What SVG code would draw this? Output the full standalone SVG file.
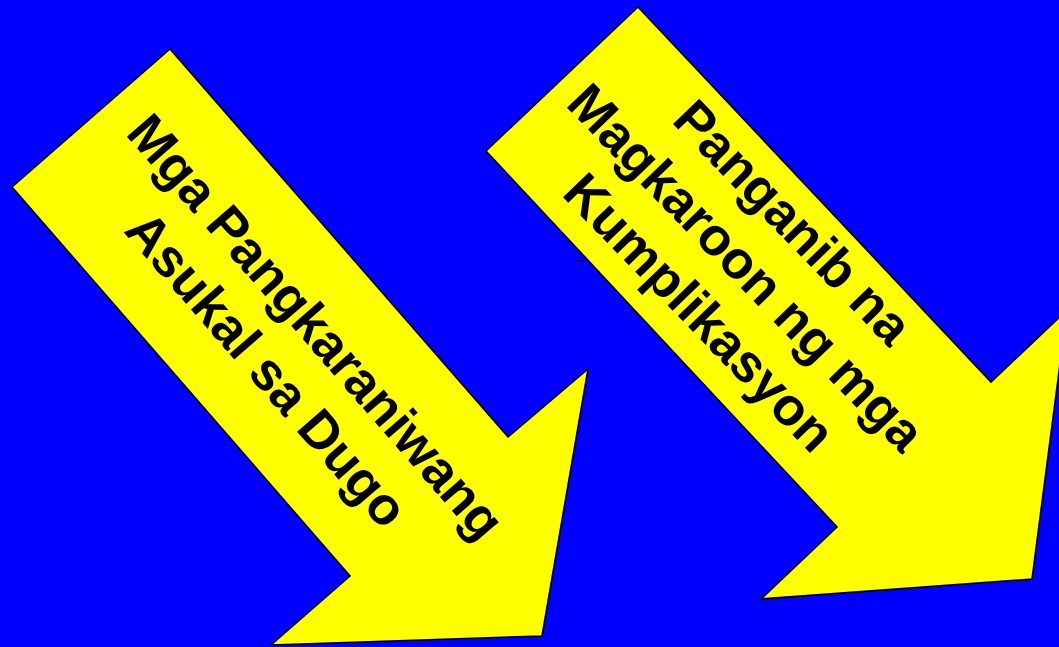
<svg xmlns="http://www.w3.org/2000/svg" width="1059" height="647" viewBox="0 0 1059 647">
<style>
.arrow{fill:#FFFF00;stroke:#000000;stroke-width:1.6;stroke-linejoin:miter}
.lbl{font-family:"Liberation Sans",Arial,sans-serif;font-weight:bold;font-size:53px;fill:#000000;text-anchor:middle}
</style>
<rect x="0" y="0" width="1059" height="647" fill="#0000FF"/>
<g id="arrow-left">
<polygon class="arrow" points="170,49 508,437 588,369 542,636 271,645 350,576 12,187"/>
<g transform="translate(302.2,338.6) rotate(49)">
<text class="lbl" x="0" y="0">Mga Pangkaraniwang</text>
<text class="lbl" x="0" y="65">Asukal sa Dugo</text>
</g>
</g>
<g id="arrow-right">
<polygon class="arrow" points="638,7 991,382 1067,310 1032,579 761,599 837,527 486,151"/>
<g transform="translate(733.2,279.9) rotate(46)">
<text class="lbl" x="0" y="-65">Panganib na</text>
<text class="lbl" x="0" y="0">Magkaroon ng mga</text>
<text class="lbl" x="0" y="65">Kumplikasyon</text>
</g>
</g>
<g id="connectors">
<line x1="576" y1="261" x2="584" y2="261" stroke="#000000" stroke-width="1.3"/>
</g>
</svg>
